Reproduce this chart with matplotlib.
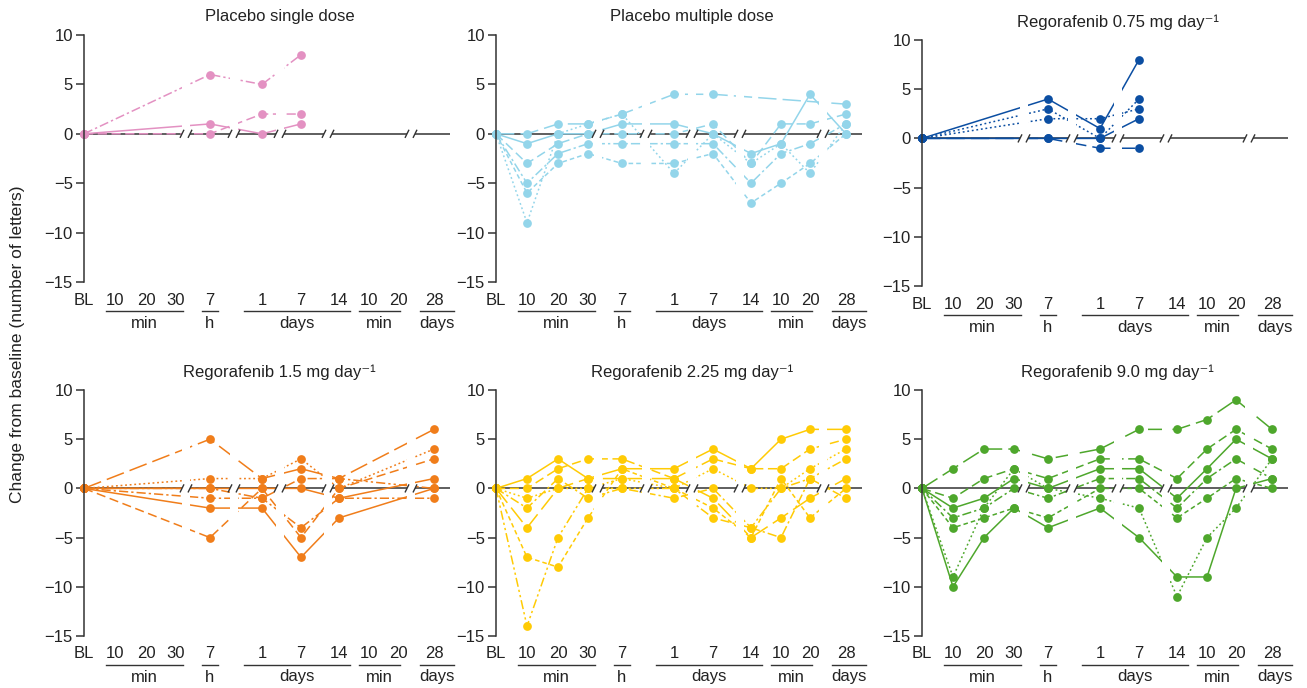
import numpy as np
import matplotlib
matplotlib.use('Agg')
import matplotlib.pyplot as plt
from matplotlib.transforms import blended_transform_factory

plt.rcParams['font.family'] = ['Liberation Sans', 'DejaVu Sans']

nan = np.nan

# time points: BL, 10/20/30 min, 7 h, 1/7/14 days, 10/20 min, 28 days
tick_labels = ['BL', '10', '20', '30', '7', '1', '7', '14', '10', '20', '28']
unit_labels = ['min', 'h', 'days', 'min', 'days']

titles = ['Placebo single dose', 'Placebo multiple dose', 'Regorafenib 0.75 mg day⁻¹',
          'Regorafenib 1.5 mg day⁻¹', 'Regorafenib 2.25 mg day⁻¹', 'Regorafenib 9.0 mg day⁻¹']
colors = ['#E391C2', '#93D5EA', '#0B4EA2', '#F07D1A', '#FFCB05', '#4EA72C']

placebo_single = [
    [0, nan, nan, nan, 6, 5, 8, nan, nan, nan, nan],
    [0, nan, nan, nan, 1, 0, 1, nan, nan, nan, nan],
    [0, nan, nan, nan, 0, 2, 2, nan, nan, nan, nan],
]
placebo_multiple = [
    [0, 0, 1, 1, 2, 4, 4, nan, nan, nan, 3],
    [0, -1, 0, 0, 1, 1, 0, -2, -1, 4, 0],
    [0, -3, -1, 0, 0, 0, 1, -3, 1, 1, 2],
    [0, -5, -2, -1, -1, -1, -1, -5, -2, -1, 1],
    [0, -6, -3, -2, -3, -3, -2, -7, -5, -3, 0],
    [0, -9, 0, 1, 2, -4, 0, -3, -1, -4, 1],
]
rego_075 = [
    [0, nan, nan, nan, 4, 1, 8, nan, nan, nan, nan],
    [0, nan, nan, nan, 3, 0, 4, nan, nan, nan, nan],
    [0, nan, nan, nan, 2, 2, 3, nan, nan, nan, nan],
    [0, nan, nan, nan, 0, 0, 2, nan, nan, nan, nan],
    [0, nan, nan, nan, 0, -1, -1, nan, nan, nan, nan],
]
rego_15 = [
    [0, nan, nan, nan, 5, 1, 2, 1, nan, nan, 6],
    [0, nan, nan, nan, 1, 1, 3, 0, nan, nan, 4],
    [0, nan, nan, nan, 0, 0, 0, -1, nan, nan, 1],
    [0, nan, nan, nan, -1, -1, -4, -1, nan, nan, -1],
    [0, nan, nan, nan, -2, -2, -7, -3, nan, nan, 0],
    [0, nan, nan, nan, -5, 0, -5, 0, nan, nan, 3],
    [0, nan, nan, nan, 0, -1, 1, 1, nan, nan, 0],
]
rego_225 = [
    [0, 1, 3, 1, 2, 2, 4, 2, 5, 6, 6],
    [0, 0, 2, 3, 3, 1, 3, 2, 2, 4, 5],
    [0, -1, 0, 0, 1, 0, 2, 0, 0, 2, 4],
    [0, -2, 1, -1, 0, -1, 0, -4, -5, 1, 3],
    [0, -4, 0, 1, 1, 1, -1, -5, -3, -1, 1],
    [0, -7, -8, -3, 2, 0, -2, -5, 1, -3, 0],
    [0, -14, -5, 0, 0, 0, -3, -4, 0, 1, -1],
]
rego_90 = [
    [0, 2, 4, 4, 3, 4, 6, 6, 7, 9, 6],
    [0, -1, 1, 2, 1, 3, 3, 1, 4, 6, 4],
    [0, -2, -1, 1, 0, 2, 2, -1, 2, 5, 3],
    [0, -3, -2, 0, -1, 1, 1, -2, 1, 3, 1],
    [0, -4, -3, -2, -3, 0, 0, -3, -1, 1, 0],
    [0, -9, -2, 2, 0, -1, -2, -11, -5, -2, 3],
    [0, -10, -5, -2, -4, -2, -5, -9, -9, 0, 1],
]
panels = [placebo_single, placebo_multiple, rego_075, rego_15, rego_225, rego_90]

# layout (pixel offsets from the y axis)
x_pos = [0, 31, 62, 92, 126, 178, 217, 255, 285, 314, 350]
unit_spans = [(22, 99), (118, 134), (160, 266), (275, 316), (336, 370)]
breaks = [102, 150, 196, 244, 327]
x_end = 366
styles = ['-', (0, (6, 3)), (0, (1.2, 1.8)), (0, (6, 2, 1.5, 2)), (0, (12, 4)),
          (0, (3, 2)), (0, (6, 2, 1.5, 2, 1.5, 2))]
# which style each subject line uses, per panel
panel_styles = [[3, 0, 1], [4, 0, 1, 3, 5, 2], [0, 2, 2, 0, 4],
                [4, 2, 0, 3, 0, 1, 6], [0, 1, 2, 3, 4, 5, 6], [4, 1, 0, 3, 5, 2, 0]]
# left, top, bottom in pixels
rects = [(84, 35, 282), (496, 35, 282), (922, 40, 286),
         (84, 390, 636), (496, 390, 636), (922, 390, 636)]

W, H = 1307, 688
fig = plt.figure(figsize=(W / 100, H / 100), dpi=100)
dark = '#333333'

for i, data in enumerate(panels):
    left, top, bottom = rects[i]
    hpx = bottom - top
    ax = fig.add_axes([left / W, 1 - bottom / H, x_end / W, hpx / H])
    ax.set_xlim(0, x_end)
    ax.set_ylim(-15, 10)
    for s in ['top', 'right', 'bottom']:
        ax.spines[s].set_visible(False)
    ax.spines['left'].set_color(dark)
    ax.spines['left'].set_linewidth(1.1)
    ax.set_yticks([-15, -10, -5, 0, 5, 10])
    ax.tick_params(axis='y', direction='out', length=6, width=1.1, color=dark,
                   labelsize=12, labelcolor='#222222', pad=2)
    ax.set_xticks([])
    ax.patch.set_alpha(0)

    ax.axhline(0, color=dark, lw=1.1, zorder=1.5)
    for j, subj in enumerate(data):
        y = np.array(subj, dtype=float)
        m = ~np.isnan(y)
        ax.plot(np.array(x_pos)[m], y[m], ls=styles[panel_styles[i][j]], color=colors[i],
                lw=1.1, marker='o', ms=6.3, mew=0, clip_on=False, zorder=2)

    # axis breaks: gap in the lines plus "//" on the zero line
    for b in breaks:
        ax.axvspan(b - 4, b + 4, color='white', lw=0, zorder=2.5)
        for d in (-4, 4):
            ax.plot([b + d - 1.7, b + d + 1.7], [-0.35, 0.35], color=dark, lw=1, zorder=3)

    trans = blended_transform_factory(ax.transData, ax.transAxes)
    for xp, lab in zip(x_pos, tick_labels):
        ax.text(xp, -18 / hpx, lab, transform=trans, ha='center', va='center',
                fontsize=12, color='#222222')
    for (a, b2), lab in zip(unit_spans, unit_labels):
        ax.plot([a, b2], [-29 / hpx] * 2, transform=trans, color=dark, lw=1, clip_on=False)
        ax.text((a + b2) / 2, -41 / hpx, lab, transform=trans, ha='center', va='center',
                fontsize=12, color='#222222')

    ax.text(0.535, 1 + 18 / hpx, titles[i], transform=ax.transAxes, ha='center',
            va='center', fontsize=12, color='#222222')

fig.text(18 / W, 1 - 344 / H, 'Change from baseline (number of letters)', rotation=90,
         ha='center', va='center', fontsize=12.5, color='#222222')

fig.savefig('out.png', dpi=100)
